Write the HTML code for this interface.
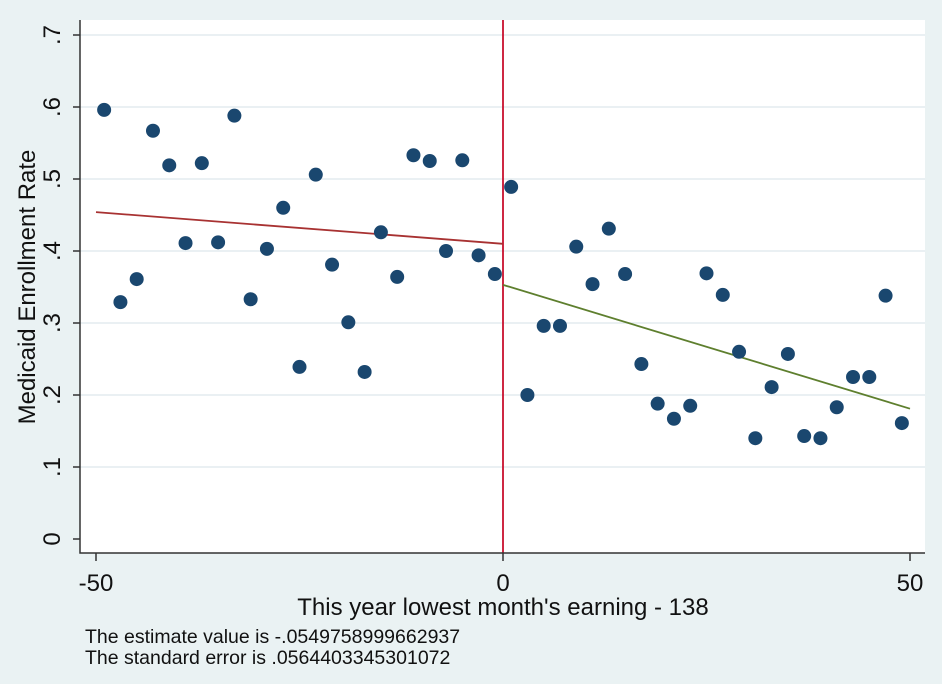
<!DOCTYPE html>
<html><head><meta charset="utf-8"><style>
body{margin:0;background:#eaf2f3;}
svg{display:block;font-family:"Liberation Sans",Arial,sans-serif;}
</style></head><body>
<svg id="c" width="942" height="684">
<rect x="0" y="0" width="942" height="684" fill="#eaf2f3"/>
<rect x="80" y="20" width="845" height="533" fill="#ffffff"/>
<g id="grid"></g><g id="fits"></g><g id="pts"></g><g id="axes"></g>
<text x="503" y="615" font-size="24" text-anchor="middle" fill="#111">This year lowest month's earning - 138</text>
<text transform="translate(35,287) rotate(-90)" font-size="24" text-anchor="middle" fill="#111">Medicaid Enrollment Rate</text>
<text x="85" y="643" font-size="19.5" fill="#111">The estimate value is -.0549758999662937</text>
<text x="85" y="664" font-size="19.5" fill="#111">The standard error is .0564403345301072</text>
</svg>
<script>
const leftX=[-49,-47,-45,-43,-41,-39,-37,-35,-33,-31,-29,-27,-25,-23,-21,-19,-17,-15,-13,-11,-9,-7,-5,-3,-1];
const leftY=[.596,.329,.361,.567,.519,.411,.522,.412,.588,.333,.403,.460,.239,.506,.381,.301,.232,.426,.364,.533,.525,.400,.526,.394,.368];
const rightX=[1,3,5,7,9,11,13,15,17,19,21,23,25,27,29,31,33,35,37,39,41,43,45,47,49];
const rightY=[.489,.200,.296,.296,.406,.354,.431,.368,.243,.188,.167,.185,.369,.339,.260,.140,.211,.257,.143,.140,.183,.225,.225,.338,.161];
const leftFit=[[-50,.454],[0,.410]];
const rightFit=[[0,.353],[50,.181]];
const yTicks=[0,.1,.2,.3,.4,.5,.6,.7];
const yTickLabels=["0",".1",".2",".3",".4",".5",".6",".7"];
const xTicks=[-50,0,50];
const xTickLabels=["-50","0","50"];
const NS="http://www.w3.org/2000/svg";
const X=v=>503+v*8.14, Y=v=>539-v*720;
function mk(parent,tag,attrs){const e=document.createElementNS(NS,tag);for(const k in attrs)e.setAttribute(k,attrs[k]);document.getElementById(parent).appendChild(e);return e;}
yTicks.forEach((t,i)=>{
  if(t>0){const g=mk('grid','line',{x1:80,x2:925,y1:Y(t),y2:Y(t),stroke:'#e3ecef','stroke-width':1.5});
  
  }
  const tk=mk('axes','line',{x1:73,x2:80,y1:Y(t),y2:Y(t),stroke:'#333','stroke-width':1.5});
  
  
  const tl=mk('axes','text',{transform:`translate(60,${Y(t)}) rotate(-90)`,'font-size':24,'text-anchor':'middle',fill:'#111'});
  tl.textContent=yTickLabels[i];
  
  
});
xTicks.forEach((t,i)=>{
  const tk=mk('axes','line',{x1:X(t),x2:X(t),y1:553,y2:561,stroke:'#333','stroke-width':1.5});
  
  
  const tl=mk('axes','text',{x:X(t),y:591,'font-size':24,'text-anchor':'middle',fill:'#111'});
  tl.textContent=xTickLabels[i];
  
  
});
const ax=mk('axes','path',{d:'M80,20 V553 H925',fill:'none',stroke:'#333','stroke-width':1.5});


const cut=mk('fits','line',{x1:X(0),x2:X(0),y1:20,y2:553,stroke:'#c8102e','stroke-width':1.8});


const lf=mk('fits','line',{x1:X(leftFit[0][0]),y1:Y(leftFit[0][1]),x2:X(leftFit[1][0]),y2:Y(leftFit[1][1]),stroke:'#a83232','stroke-width':1.8});


const rf=mk('fits','line',{x1:X(rightFit[0][0]),y1:Y(rightFit[0][1]),x2:X(rightFit[1][0]),y2:Y(rightFit[1][1]),stroke:'#5e7f2e','stroke-width':1.8});


function dots(xs,ys,side){xs.forEach((x,i)=>{
  const c=mk('pts','circle',{cx:X(x),cy:Y(ys[i]),r:7,fill:'#1a476f'});
  
  
});}
dots(leftX,leftY,'left');
dots(rightX,rightY,'right');
</script>
</body></html>
